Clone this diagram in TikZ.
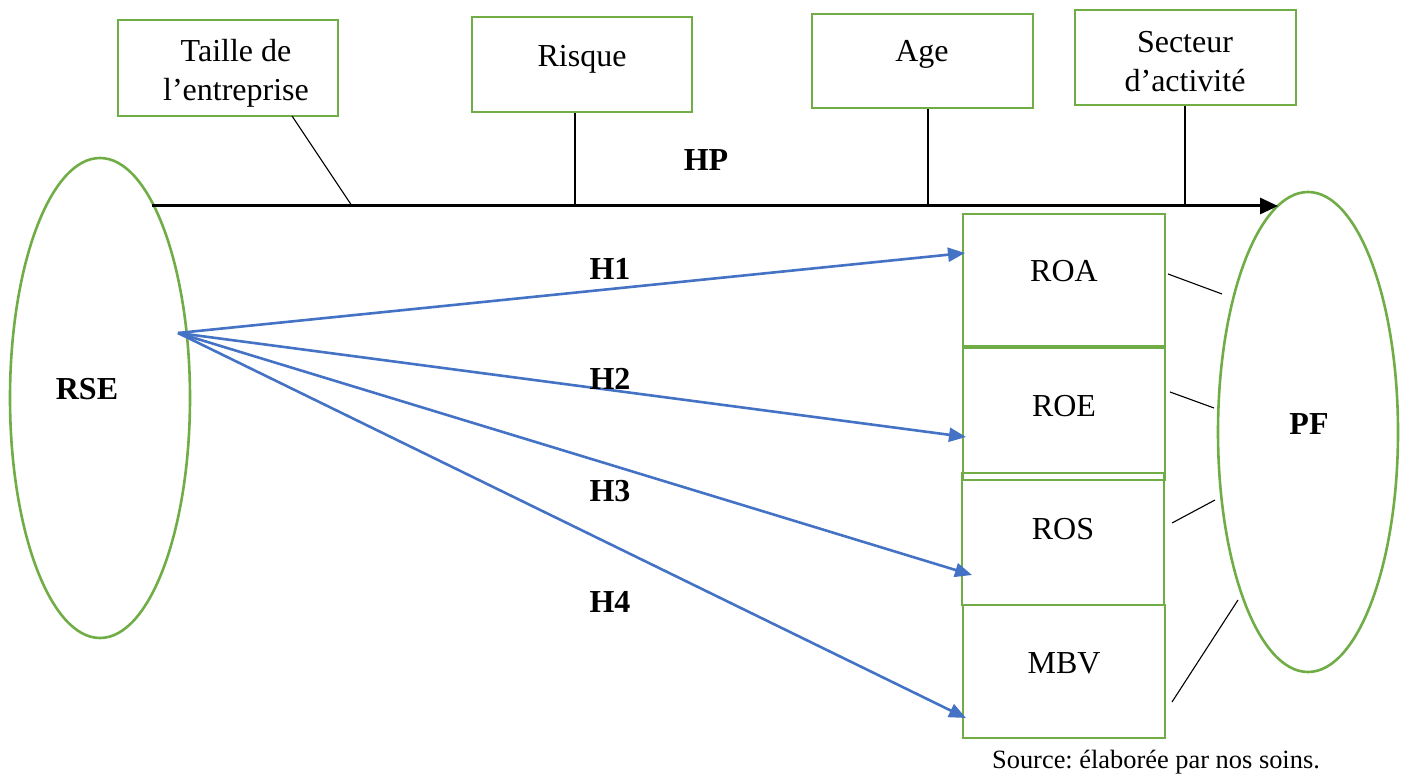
\documentclass[tikz,border=0pt]{standalone}
\usepackage{fontspec}
\setmainfont{Liberation Serif}
\usetikzlibrary{arrows.meta,shapes.geometric}
\definecolor{grn}{HTML}{70AD47}
\definecolor{blu}{HTML}{4472C4}
\begin{document}
\frenchspacing
\begin{tikzpicture}[x=0.5pt,y=-0.5pt,
  font=\fontsize{16}{19.5}\selectfont,
  gbox/.style={draw=grn,line width=1.4pt,inner sep=0pt},
  gell/.style={draw=grn,line width=1.3pt,ellipse,inner sep=0pt,minimum width=90pt,minimum height=240pt},
  txt/.style={inner sep=0pt,align=center},
  btxt/.style={txt,font=\fontsize{16}{19.5}\selectfont\bfseries},
  barrow/.style={draw=blu,line width=1.3pt,-{Triangle[length=8.5pt,width=7pt]}},
  thin/.style={draw=black,line width=0.55pt}]
\useasboundingbox (0,0) rectangle (1408,774);
% ellipses
\node[gell] (rse) at (100,398) {};
\node[gell] (pf) at (1308,432) {};
\node[btxt] (rsel) at (87,389) {RSE};
\node[btxt] (pfl) at (1309,424) {PF};
% top boxes
\node[gbox,minimum width=110pt,minimum height=48pt] (taille) at (228,68) {};
\node[gbox,minimum width=110pt,minimum height=47.5pt] (risque) at (582,64.5) {};
\node[gbox,minimum width=110.5pt,minimum height=47pt] (age) at (922.5,61) {};
\node[gbox,minimum width=110.5pt,minimum height=47.5pt] (secteur) at (1185.5,57.5) {};
\node[txt] (tailleT) at (236,73) {Taille de\\l’entreprise};
\node[txt] (risqueT) at (582,59) {Risque};
\node[txt] (ageT) at (922,54) {Age};
\node[txt] (secteurT) at (1185,62) {Secteur\\d’activité};
% HP line
\coordinate (hpS) at (152,206);
\coordinate (hpE) at (1278,206);
\draw[line width=1.5pt,-{Triangle[length=9pt,width=8pt]}] (hpS) -- (hpE);
\node[btxt] (hp) at (706,160) {HP};
\coordinate (c1) at (352,206);
\coordinate (c2) at (575,206);
\coordinate (c3) at (928,206);
\coordinate (c4) at (1185,206);
\draw[thin] (292,116) -- (c1);
\draw[thin] (risque.south -| c2) -- (c2);
\draw[thin] (age.south -| c3) -- (c3);
\draw[thin] (secteur.south -| c4) -- (c4);
% right boxes
\node[gbox,minimum width=101pt,minimum height=66pt] (roa) at (1064,280) {};
\node[gbox,minimum width=101pt,minimum height=66pt] (roe) at (1064,414) {};
\node[gbox,minimum width=101pt,minimum height=66pt] (ros) at (1063,539) {};
\node[gbox,minimum width=101pt,minimum height=66.5pt] (mbv) at (1064,671.5) {};
\node[txt] (roaT) at (1064,271) {ROA};
\node[txt] (roeT) at (1064,406) {ROE};
\node[txt] (rosT) at (1063,529) {ROS};
\node[txt] (mbvT) at (1064,663) {MBV};
% blue arrows
\coordinate (src) at (178,333);
\coordinate (t1) at (965,253);
\coordinate (t2) at (966,437);
\coordinate (t3) at (972,575);
\coordinate (t4) at (966,718);
\draw[barrow] (src) -- (t1);
\draw[barrow] (src) -- (t2);
\draw[barrow] (src) -- (t3);
\draw[barrow] (src) -- (t4);
\node[btxt] (h1) at (610,269) {H1};
\node[btxt] (h2) at (610,379) {H2};
\node[btxt] (h3) at (610,491) {H3};
\node[btxt] (h4) at (610,602) {H4};
% box to PF links
\draw[thin] (1168,274) -- (1222,294);
\draw[thin] (1170,392) -- (1214,408);
\draw[thin] (1172,523) -- (1215,500);
\draw[thin] (1172,702) -- (1238,600);
% source
\node[txt,font=\fontsize{13.2}{15}\selectfont] (source) at (1156,762) {Source: élaborée par nos soins.};
\end{tikzpicture}
\end{document}
